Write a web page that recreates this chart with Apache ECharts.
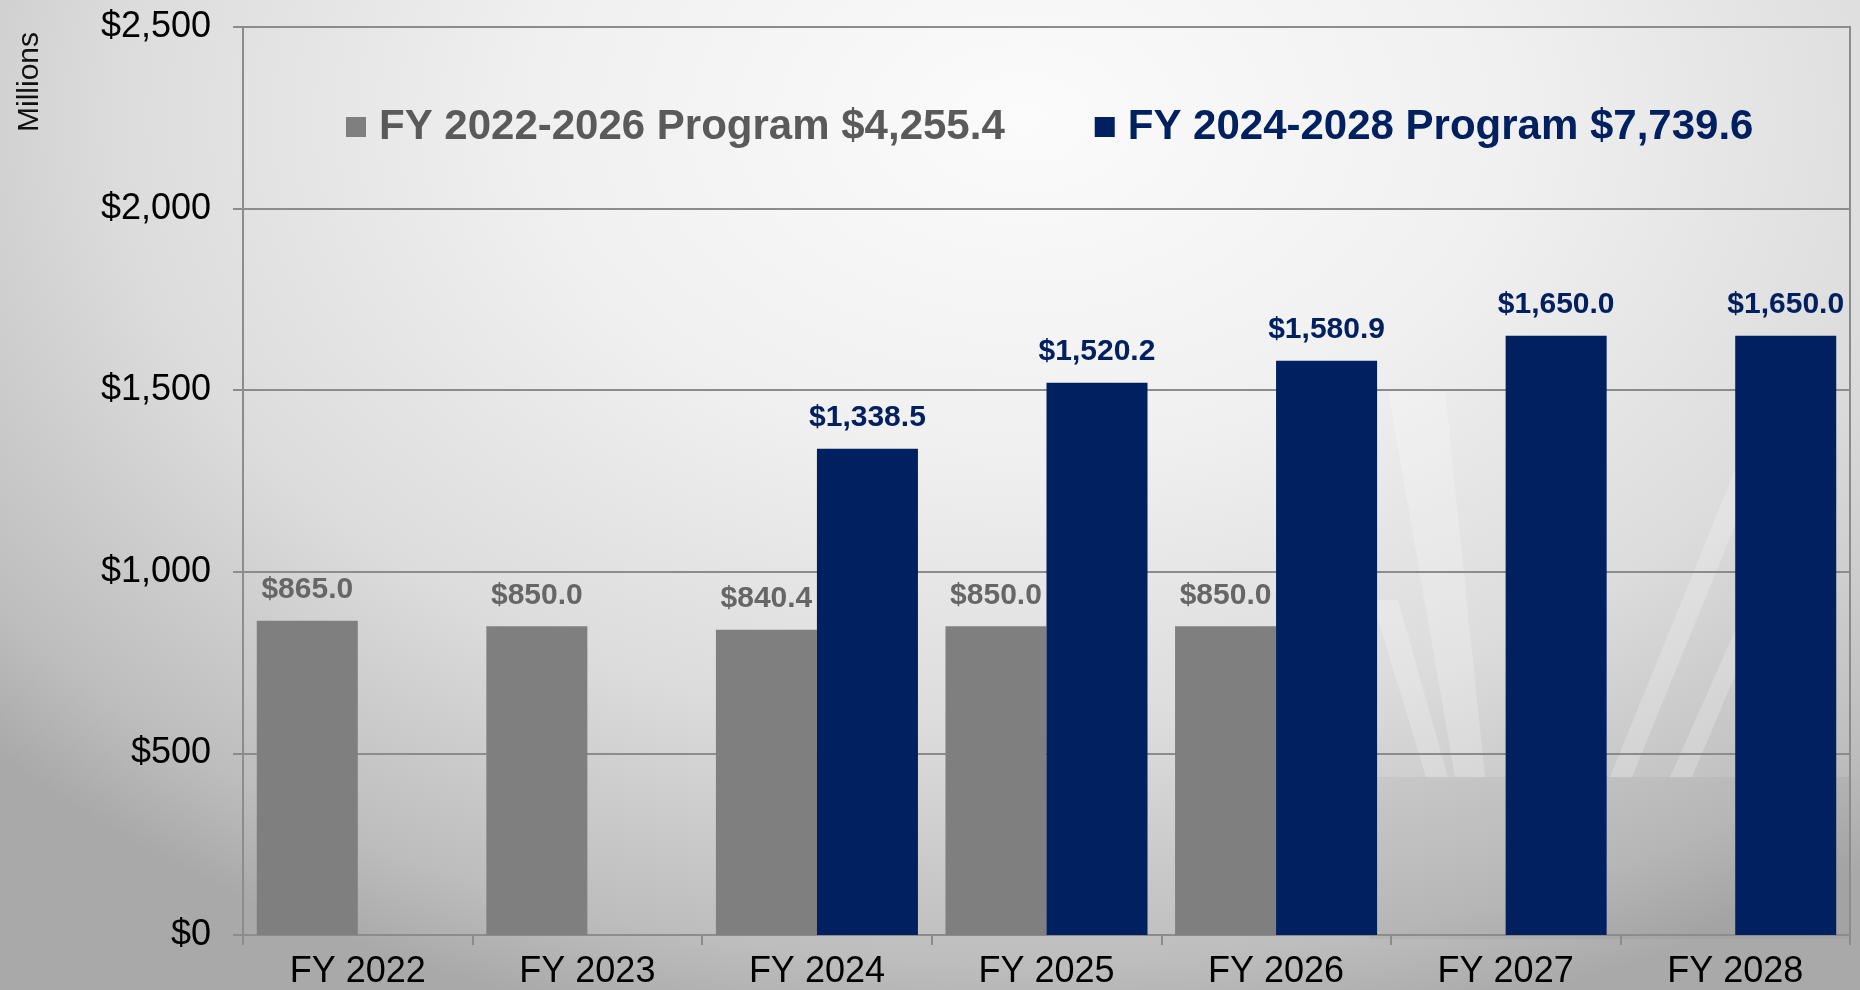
<!DOCTYPE html>
<html>
<head>
<meta charset="utf-8">
<script src="https://cdn.jsdelivr.net/npm/echarts@6/dist/echarts.min.js"></script>
<style>
html,body{margin:0;padding:0;}
#chart{width:1860px;height:990px;
background: radial-gradient(ellipse 75% 95% at 55% 12%, #fbfbfb 0%, #f0f0f0 35%, #dcdcdc 65%, #bdbdbd 90%, #a9a9a9 100%);}
</style>
</head>
<body>
<div id="chart"></div>
<script>
const categories = ['FY 2022','FY 2023','FY 2024','FY 2025','FY 2026','FY 2027','FY 2028'];
const program2226 = [865.0, 850.0, 840.4, 850.0, 850.0, null, null];
const program2428 = [null, null, 1338.5, 1520.2, 1580.9, 1650.0, 1650.0];
const seriesNames = ['FY 2022-2026 Program $4,255.4', 'FY 2024-2028 Program $7,739.6'];
const yTicks = {min: 0, max: 2500, interval: 500};

const fmtMoney = v => '$' + Number(v).toLocaleString('en-US', {minimumFractionDigits: 1, maximumFractionDigits: 1});
const fmtAxis = v => '$' + Number(v).toLocaleString('en-US');

const regular = '"Liberation Sans", Arial, sans-serif';
const ray = pts => ({type: 'polygon', z: -10, silent: true, shape: {points: pts}, style: {fill: 'rgba(255,255,255,0.22)'}});

const chart = echarts.init(document.getElementById('chart'), null, {renderer: 'canvas'});
chart.setOption({
  backgroundColor: 'transparent',
  animation: false,
  grid: {left: 243, right: 10, top: 27, bottom: 51, show: true, borderColor: '#8c8c8c', borderWidth: 2, backgroundColor: 'transparent'},
  legend: {
    left: 341, top: 101,
    itemWidth: 20, itemHeight: 20, itemGap: 90,
    icon: 'rect',
    textStyle: {fontFamily: regular, fontWeight: 'bold', fontSize: 42, padding: [0,0,0,8]},
    data: [
      {name: seriesNames[0], textStyle: {color: '#5a5a5a'}},
      {name: seriesNames[1], textStyle: {color: '#002060'}}
    ]
  },
  graphic: [
    {type: 'rect', z: -11, silent: true, shape: {x: 1370, y: 777, width: 480, height: 162}, style: {fill: 'rgba(0,0,0,0.035)'}},
    ray([[1388,390],[1445,390],[1485,777],[1455,777]]),
    ray([[1372,600],[1398,600],[1448,777],[1426,777]]),
    ray([[1735,470],[1762,460],[1632,777],[1610,777]]),
    ray([[1742,615],[1765,605],[1692,777],[1670,777]]),
    {type: 'text', x: 30, y: 82, rotation: Math.PI / 2,
     style: {text: 'Millions', fontFamily: regular, fontSize: 30, fill: '#111', align: 'center', verticalAlign: 'middle'}}
  ],
  xAxis: {
    type: 'category', data: categories,
    axisLine: {lineStyle: {color: '#8c8c8c', width: 2}},
    axisTick: {show: true, length: 10, lineStyle: {color: '#8c8c8c', width: 2}},
    axisLabel: {color: '#000', fontFamily: regular, fontSize: 36, margin: 19}
  },
  yAxis: {
    type: 'value', min: yTicks.min, max: yTicks.max, interval: yTicks.interval,
    axisLine: {show: true, lineStyle: {color: '#8c8c8c', width: 2}},
    axisTick: {show: true, length: 10, lineStyle: {color: '#8c8c8c', width: 2}},
    splitLine: {lineStyle: {color: '#8c8c8c', width: 2}},
    axisLabel: {color: '#000', fontFamily: regular, fontSize: 36, margin: 32, formatter: fmtAxis}
  },
  series: [
    {
      name: seriesNames[0], type: 'bar', data: program2226,
      barGap: '0%', barCategoryGap: '12%',
      itemStyle: {color: '#7f7f7f'},
      label: {show: true, position: 'top', distance: 16, color: '#666666', fontFamily: regular, fontWeight: 'bold', fontSize: 30, formatter: p => fmtMoney(p.value)}
    },
    {
      name: seriesNames[1], type: 'bar', data: program2428,
      barGap: '0%', barCategoryGap: '12%',
      itemStyle: {color: '#002060'},
      label: {show: true, position: 'top', distance: 16, color: '#002060', fontFamily: regular, fontWeight: 'bold', fontSize: 30, formatter: p => fmtMoney(p.value)}
    }
  ]
});
</script>
</body>
</html>
